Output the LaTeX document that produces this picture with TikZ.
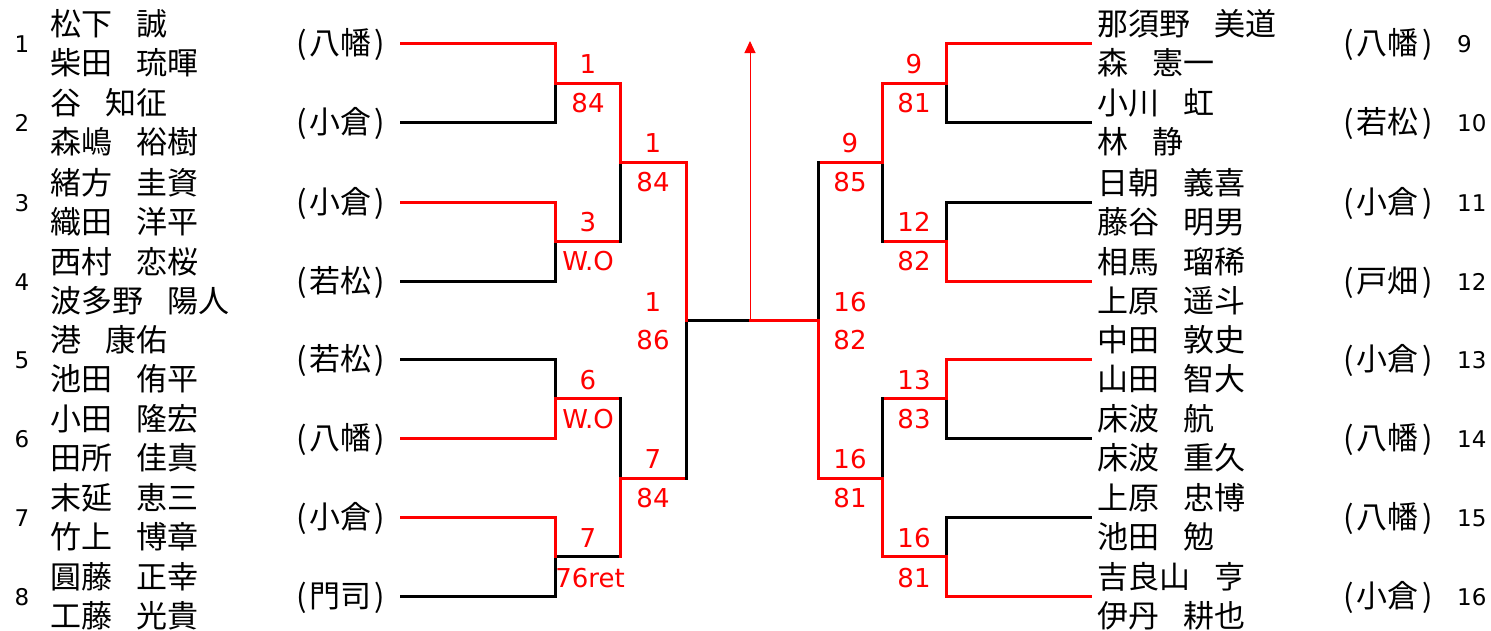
\documentclass[tikz,border=0pt]{standalone}
\usepackage{fontspec}
\setmainfont{DejaVu Sans}
\newfontfamily\jp{Noto Sans CJK JP}
\usetikzlibrary{arrows.meta}
\tikzset{
  win/.style={draw=red, line width=3pt, line cap=rect},
  lose/.style={draw=black, line width=3pt, line cap=rect},
  score/.style={text=red, font=\fontsize{26}{26}\selectfont, inner sep=0pt, text height=19pt, text depth=0pt},
  pname/.style={font=\jp\fontsize{31}{31}\selectfont, anchor=west, inner sep=0pt, text height=25.7pt, text depth=2.2pt},
  team/.style={font=\jp\fontsize{31}{31}\selectfont, inner sep=0pt, text height=25.7pt, text depth=2.2pt},
  seed/.style={font=\fontsize{23}{23}\selectfont, inner sep=0pt, text height=16.8pt, text depth=0pt},
}
\newcommand{\nm}[2]{#1\hspace{24pt}#2}
\newcommand{\tm}[1]{(\kern3pt#1\kern3pt)}
\begin{document}
\begin{tikzpicture}[x=1pt,y=-1pt]
\useasboundingbox (0,0) rectangle (1491,630);

% ---------- left entries ----------
\foreach \i/\y/\t/\a/\b/\c in {
 1/43/八幡/\nm{松下}{誠}/\nm{柴田}{琉暉}/win,
 2/122/小倉/\nm{谷}{知征}/\nm{森嶋}{裕樹}/lose,
 3/202/小倉/\nm{緒方}{圭資}/\nm{織田}{洋平}/win,
 4/281/若松/\nm{西村}{恋桜}/\nm{波多野}{陽人}/lose,
 5/359/若松/\nm{港}{康佑}/\nm{池田}{侑平}/lose,
 6/438/八幡/\nm{小田}{隆宏}/\nm{田所}{佳真}/win,
 7/517/小倉/\nm{末延}{恵三}/\nm{竹上}{博章}/win,
 8/596/門司/\nm{圓藤}{正幸}/\nm{工藤}{光貴}/lose}{
  \node[seed] (ls\i) at (22,\y+1) {\i};
  \node[pname] (lna\i) at (50,\y-19.5) {\a};
  \node[pname] (lnb\i) at (50,\y+19.5) {\b};
  \node[team] (lt\i) at (341,\y) {\tm{\t}};
  \coordinate (LS\i) at (401,\y);
  \coordinate (LE\i) at (555,\y);
  \draw[\c] (LS\i) -- (LE\i);
}

% ---------- right entries ----------
\foreach \i/\y/\t/\a/\b/\c in {
 9/43/八幡/\nm{那須野}{美道}/\nm{森}{憲一}/win,
 10/122/若松/\nm{小川}{虹}/\nm{林}{静}/lose,
 11/202/小倉/\nm{日朝}{義喜}/\nm{藤谷}{明男}/lose,
 12/281/戸畑/\nm{相馬}{瑠稀}/\nm{上原}{遥斗}/win,
 13/359/小倉/\nm{中田}{敦史}/\nm{山田}{智大}/win,
 14/438/八幡/\nm{床波}{航}/\nm{床波}{重久}/lose,
 15/517/八幡/\nm{上原}{忠博}/\nm{池田}{勉}/lose,
 16/596/小倉/\nm{吉良山}{亨}/\nm{伊丹}{耕也}/win}{
  \node[seed, anchor=west] (rs\i) at (1457,\y+1) {\i};
  \node[pname] (rna\i) at (1097,\y-19.5) {\a};
  \node[pname] (rnb\i) at (1097,\y+19.5) {\b};
  \node[team] (rt\i) at (1388,\y) {\tm{\t}};
  \coordinate (RS\i) at (1090,\y);
  \coordinate (RE\i) at (946,\y);
  \draw[\c] (RE\i) -- (RS\i);
}

% ---------- left bracket ----------
\coordinate (LA1) at (555,83);  \coordinate (LA1r) at (620,83);
\coordinate (LA2) at (555,241); \coordinate (LA2r) at (620,241);
\coordinate (LA3) at (555,398); \coordinate (LA3r) at (620,398);
\coordinate (LA4) at (555,556); \coordinate (LA4r) at (620,556);
\coordinate (LB1) at (620,162); \coordinate (LB1r) at (686,162);
\coordinate (LB2) at (620,478); \coordinate (LB2r) at (686,478);
\coordinate (LC) at (686,320);
\coordinate (F) at (750,320);
\coordinate (TOP) at (750,41);

\draw[win] (LE1) -- (LA1); \draw[lose] (LA1) -- (LE2); \draw[win] (LA1) -- (LA1r);
\draw[win] (LE3) -- (LA2); \draw[lose] (LA2) -- (LE4); \draw[win] (LA2) -- (LA2r);
\draw[lose] (LE5) -- (LA3); \draw[win] (LA3) -- (LE6); \draw[win] (LA3) -- (LA3r);
\draw[lose] (LA4) -- (LE8); \draw[lose] (LA4) -- (LA4r); \draw[win] (LE7) -- (LA4);
\draw[lose] (LB1) -- (LA2r); \draw[win] (LA1r) -- (LB1); \draw[win] (LB1) -- (LB1r);
\draw[lose] (LA3r) -- (LB2); \draw[win] (LB2) -- (LA4r); \draw[win] (LB2) -- (LB2r);
\draw[lose] (LC) -- (LB2r); \draw[lose] (LC) -- (F); \draw[win] (LB1r) -- (LC);

% ---------- right bracket ----------
\coordinate (RA1) at (946,83);  \coordinate (RA1l) at (882,83);
\coordinate (RA2) at (946,241); \coordinate (RA2l) at (882,241);
\coordinate (RA3) at (946,398); \coordinate (RA3l) at (882,398);
\coordinate (RA4) at (946,556); \coordinate (RA4l) at (882,556);
\coordinate (RB1) at (882,162); \coordinate (RB1l) at (818,162);
\coordinate (RB2) at (882,478); \coordinate (RB2l) at (818,478);
\coordinate (RC) at (818,320);

\draw[lose] (RA1) -- (RE10); \draw[win] (RE9) -- (RA1); \draw[win] (RA1) -- (RA1l);
\draw[lose] (RE11) -- (RA2); \draw[win] (RA2) -- (RE12); \draw[win] (RA2) -- (RA2l);
\draw[lose] (RA3) -- (RE14); \draw[win] (RE13) -- (RA3); \draw[win] (RA3) -- (RA3l);
\draw[lose] (RE15) -- (RA4); \draw[win] (RA4) -- (RE16); \draw[win] (RA4) -- (RA4l);
\draw[lose] (RB1) -- (RA2l); \draw[win] (RA1l) -- (RB1); \draw[win] (RB1) -- (RB1l);
\draw[lose] (RA3l) -- (RB2); \draw[win] (RB2) -- (RA4l); \draw[win] (RB2) -- (RB2l);
\draw[lose] (RB1l) -- (RC); \draw[win] (RC) -- (RB2l); \draw[win] (F) -- (RC);

% champion arrow
\draw[red, line width=1pt, -{Triangle[length=12pt,width=11pt]}] (F) -- (TOP);

% ---------- scores ----------
\node[score] (s1a) at (588,64) {1};   \node[score] (s1b) at (588,103) {84};
\node[score] (s2a) at (588,222) {3};  \node[score] (s2b) at (588,261) {W.O};
\node[score] (s3a) at (588,380) {6};  \node[score] (s3b) at (588,419) {W.O};
\node[score] (s4a) at (588,538) {7};  \node[score] (s4b) at (590,578) {76ret};
\node[score] (s5a) at (653,143) {1};  \node[score] (s5b) at (653,182) {84};
\node[score] (s6a) at (653,459) {7};  \node[score] (s6b) at (653,498) {84};
\node[score] (s7a) at (653,302) {1};  \node[score] (s7b) at (653,340) {86};

\node[score] (r1a) at (914,64) {9};   \node[score] (r1b) at (914,103) {81};
\node[score] (r2a) at (914,222) {12}; \node[score] (r2b) at (914,261) {82};
\node[score] (r3a) at (914,380) {13}; \node[score] (r3b) at (914,419) {83};
\node[score] (r4a) at (914,538) {16}; \node[score] (r4b) at (914,578) {81};
\node[score] (r5a) at (850,143) {9};  \node[score] (r5b) at (850,182) {85};
\node[score] (r6a) at (850,459) {16}; \node[score] (r6b) at (850,498) {81};
\node[score] (r7a) at (850,302) {16}; \node[score] (r7b) at (850,340) {82};
\end{tikzpicture}
\end{document}
